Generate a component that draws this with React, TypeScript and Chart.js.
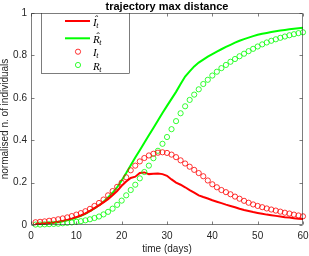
import React, { useEffect, useRef } from 'react';
import { Chart, registerables } from 'chart.js';

Chart.register(...registerables);

// ---- data ----
const days = [
  1, 2, 3, 4, 5, 6, 7, 8, 9, 10, 11, 12, 13, 14, 15, 16, 17, 18, 19, 20,
  21, 22, 23, 24, 25, 26, 27, 28, 29, 30, 31, 32, 33, 34, 35, 36, 37, 38, 39, 40,
  41, 42, 43, 44, 45, 46, 47, 48, 49, 50, 51, 52, 53, 54, 55, 56, 57, 58, 59, 60,
];

// estimated infected (line, Î_t)
const iHat = [
  0.005, 0.006, 0.008, 0.010, 0.012, 0.015, 0.019, 0.024, 0.030, 0.037,
  0.045, 0.055, 0.066, 0.080, 0.093, 0.107, 0.122, 0.140, 0.160, 0.185,
  0.205, 0.222, 0.228, 0.245, 0.248, 0.240, 0.242, 0.243, 0.240, 0.232,
  0.215, 0.200, 0.190, 0.178, 0.165, 0.153, 0.140, 0.132, 0.125, 0.117,
  0.110, 0.103, 0.096, 0.090, 0.084, 0.077, 0.071, 0.066, 0.061, 0.057,
  0.053, 0.049, 0.046, 0.043, 0.040, 0.037, 0.035, 0.032, 0.030, 0.028,
];

// estimated removed (line, R̂_t)
const rHat = [
  0.004, 0.005, 0.006, 0.008, 0.010, 0.013, 0.017, 0.022, 0.028, 0.035,
  0.043, 0.053, 0.065, 0.078, 0.093, 0.110, 0.130, 0.152, 0.178, 0.210,
  0.245, 0.282, 0.318, 0.353, 0.388, 0.423, 0.458, 0.493, 0.528, 0.562,
  0.595, 0.628, 0.665, 0.700, 0.725, 0.748, 0.766, 0.780, 0.794, 0.806,
  0.818, 0.829, 0.840, 0.850, 0.860, 0.869, 0.877, 0.884, 0.891, 0.897,
  0.902, 0.906, 0.910, 0.914, 0.917, 0.920, 0.923, 0.926, 0.928, 0.930,
];

// observed infected (circles, I_t)
const iObs = [
  0.013, 0.015, 0.017, 0.020, 0.023, 0.027, 0.031, 0.036, 0.042, 0.049,
  0.056, 0.065, 0.076, 0.090, 0.104, 0.120, 0.140, 0.160, 0.180, 0.200,
  0.225, 0.258, 0.280, 0.300, 0.316, 0.328, 0.336, 0.341, 0.343, 0.340,
  0.332, 0.320, 0.305, 0.290, 0.275, 0.260, 0.245, 0.230, 0.210, 0.192,
  0.178, 0.165, 0.155, 0.145, 0.134, 0.124, 0.114, 0.105, 0.097, 0.090,
  0.084, 0.078, 0.073, 0.068, 0.063, 0.058, 0.054, 0.049, 0.045, 0.041,
];

// observed removed (circles, R_t)
const rObs = [
  0.002, 0.002, 0.003, 0.004, 0.005, 0.006, 0.008, 0.010, 0.012, 0.015,
  0.018, 0.022, 0.027, 0.033, 0.040, 0.050, 0.062, 0.077, 0.095, 0.115,
  0.140, 0.165, 0.190, 0.220, 0.250, 0.280, 0.315, 0.350, 0.383, 0.415,
  0.452, 0.490, 0.527, 0.560, 0.590, 0.615, 0.640, 0.665, 0.685, 0.705,
  0.723, 0.740, 0.755, 0.770, 0.783, 0.796, 0.808, 0.820, 0.831, 0.842,
  0.852, 0.861, 0.869, 0.876, 0.883, 0.889, 0.895, 0.900, 0.905, 0.909,
];

const xTicks = [0, 10, 20, 30, 40, 50, 60];
const xTickLabels = ['0', '10', '20', '30', '40', '50', '60'];
const yTicks = [0, 0.2, 0.4, 0.6, 0.8, 1];
const yTickLabels = ['0', '0.2', '0.4', '0.6', '0.8', '1'];

const titleText = 'trajectory max distance';
const xTitle = 'time (days)';
const yTitle = 'normalised n. of individuals';

const legendSymbols = ['I', 'R', 'I', 'R'];
const legendHats = [true, true, false, false];
const legendKinds = ['line', 'line', 'circle', 'circle'];
const seriesColors = ['#ff0000', '#00ff00', '#ff0000', '#00ff00'];

const AXIS_COLOR = '#262626';
const SANS = '"Liberation Sans", Arial, Helvetica, sans-serif';
const SERIF = '"Liberation Serif", "Times New Roman", serif';

const toPoints = (vals: number[]) => days.map((d, i) => ({ x: d, y: vals[i] }));

const framePlugin = {
  id: 'matlabFrame',
  afterDatasetsDraw(chart: any) {
    const { ctx, chartArea, scales } = chart;
    const { left, right, top, bottom } = chartArea;
    const L = Math.round(left) + 0.5;
    const R = Math.round(right) - 0.5;
    const T = Math.round(top) + 0.5;
    const B = Math.round(bottom) - 0.5;
    ctx.save();
    ctx.strokeStyle = AXIS_COLOR;
    ctx.lineWidth = 0.6;
    ctx.beginPath();
    ctx.rect(L, T, R - L, B - T);
    ctx.stroke();
    const tl = 3;
    ctx.beginPath();
    xTicks.forEach((v) => {
      const px = Math.round(scales.x.getPixelForValue(v)) + 0.5;
      ctx.moveTo(px, B);
      ctx.lineTo(px, B - tl);
      ctx.moveTo(px, T);
      ctx.lineTo(px, T + tl);
    });
    yTicks.forEach((v) => {
      const py = Math.round(scales.y.getPixelForValue(v)) + 0.5;
      ctx.moveTo(L, py);
      ctx.lineTo(L + tl, py);
      ctx.moveTo(R, py);
      ctx.lineTo(R - tl, py);
    });
    ctx.stroke();
    ctx.restore();
  },
  afterDraw(chart: any) {
    const { ctx, chartArea, scales } = chart;
    const { left, right, top, bottom } = chartArea;
    ctx.save();
    ctx.setTransform(1, 0, 0, 1, 0, 0);

    // y axis title (rotated)
    ctx.fillStyle = AXIS_COLOR;
    ctx.font = `10px ${SANS}`;
    ctx.textBaseline = 'middle';
    ctx.textAlign = 'center';
    ctx.save();
    ctx.translate(5, (top + bottom) / 2);
    ctx.rotate(-Math.PI / 2);
    ctx.fillText(yTitle, 0, 0);
    ctx.restore();

    // x tick labels and title
    ctx.textAlign = 'center';
    xTicks.forEach((v, i) => {
      ctx.fillText(xTickLabels[i], scales.x.getPixelForValue(v), bottom + 11.3);
    });
    ctx.fillText(xTitle, (left + right) / 2, bottom + 24);

    // y tick labels
    ctx.textAlign = 'right';
    yTicks.forEach((v, i) => {
      ctx.fillText(yTickLabels[i], left - 4, scales.y.getPixelForValue(v));
    });

    // title
    ctx.fillStyle = '#000';
    ctx.font = `bold 11px ${SANS}`;
    ctx.textAlign = 'center';
    ctx.textBaseline = 'alphabetic';
    ctx.fillText(titleText, (left + right) / 2, 9.5);

    // legend
    const bx = Math.round(left) + 10;
    const by = Math.round(top);
    const bw = 88;
    const bh = 60;
    ctx.fillStyle = '#ffffff';
    ctx.fillRect(bx, by, bw, bh);
    ctx.strokeStyle = AXIS_COLOR;
    ctx.lineWidth = 0.6;
    ctx.strokeRect(bx + 0.5, by + 0.5, bw, bh);
    const rowOffsets = [8, 25.3, 38.7, 52];
    legendSymbols.forEach((sym, i) => {
      const ry = by + rowOffsets[i];
      const col = seriesColors[i];
      if (legendKinds[i] === 'line') {
        ctx.strokeStyle = col;
        ctx.lineWidth = 2;
        ctx.beginPath();
        ctx.moveTo(bx + 24, ry);
        ctx.lineTo(bx + 49, ry);
        ctx.stroke();
      } else {
        ctx.strokeStyle = col;
        ctx.lineWidth = 0.8;
        ctx.beginPath();
        ctx.arc(bx + 37, ry, 2.6, 0, Math.PI * 2);
        ctx.stroke();
      }
      const tx = bx + 52;
      const base = ry + 4.5;
      ctx.fillStyle = '#000';
      ctx.textBaseline = 'alphabetic';
      ctx.textAlign = 'left';
      ctx.font = `italic 11px ${SERIF}`;
      ctx.fillText(sym, tx, base);
      const w = ctx.measureText(sym).width;
      if (legendHats[i]) {
        ctx.textAlign = 'center';
        ctx.fillText('\u02C6', tx + w / 2 + 1, base - 3);
        ctx.textAlign = 'left';
      }
      ctx.font = `italic 8px ${SERIF}`;
      ctx.fillText('t', tx + w - 0.5, base + 2);
    });
    ctx.restore();
  },
};

export default function App() {
  const ref = useRef<HTMLCanvasElement>(null);

  useEffect(() => {
    if (!ref.current) return;
    const chart = new Chart(ref.current, {
      type: 'scatter',
      data: {
        datasets: [
          { label: 'Î_t', data: toPoints(iHat), showLine: true, borderColor: seriesColors[0], backgroundColor: seriesColors[0], borderWidth: 2, pointRadius: 0, tension: 0, order: 1 },
          { label: 'R̂_t', data: toPoints(rHat), showLine: true, borderColor: seriesColors[1], backgroundColor: seriesColors[1], borderWidth: 2, pointRadius: 0, tension: 0, order: 1 },
          { label: 'I_t', data: toPoints(iObs), showLine: false, pointStyle: 'circle', pointRadius: 2.6, pointBorderWidth: 0.8, pointBorderColor: seriesColors[2], pointBackgroundColor: 'rgba(0,0,0,0)', order: 0, clip: false } as any,
          { label: 'R_t', data: toPoints(rObs), showLine: false, pointStyle: 'circle', pointRadius: 2.6, pointBorderWidth: 0.8, pointBorderColor: seriesColors[3], pointBackgroundColor: 'rgba(0,0,0,0)', order: 0, clip: false } as any,
        ],
      },
      options: {
        responsive: false,
        maintainAspectRatio: false,
        devicePixelRatio: 1,
        animation: false,
        events: [],
        layout: { padding: { left: 0, top: 13, right: 6, bottom: 0 } },
        plugins: { legend: { display: false }, title: { display: false }, tooltip: { enabled: false } },
        scales: {
          x: {
            type: 'linear', min: 0, max: 60,
            grid: { display: false }, border: { display: false },
            ticks: { display: false, stepSize: 10 }, title: { display: false },
            afterFit: (s: any) => { s.height = 31; s.paddingLeft = 0; s.paddingRight = 0; },
          },
          y: {
            type: 'linear', min: 0, max: 1,
            grid: { display: false }, border: { display: false },
            ticks: { display: false, stepSize: 0.2 }, title: { display: false },
            afterFit: (s: any) => { s.width = 31; s.paddingTop = 0; s.paddingBottom = 0; },
          },
        },
      },
      plugins: [framePlugin],
    });
    return () => chart.destroy();
  }, []);

  return (
    <div style={{ position: 'fixed', left: 0, top: 0, width: 309, height: 256, background: '#fff' }}>
      <canvas ref={ref} width={309} height={256} style={{ display: 'block', width: 309, height: 256 }} />
    </div>
  );
}
